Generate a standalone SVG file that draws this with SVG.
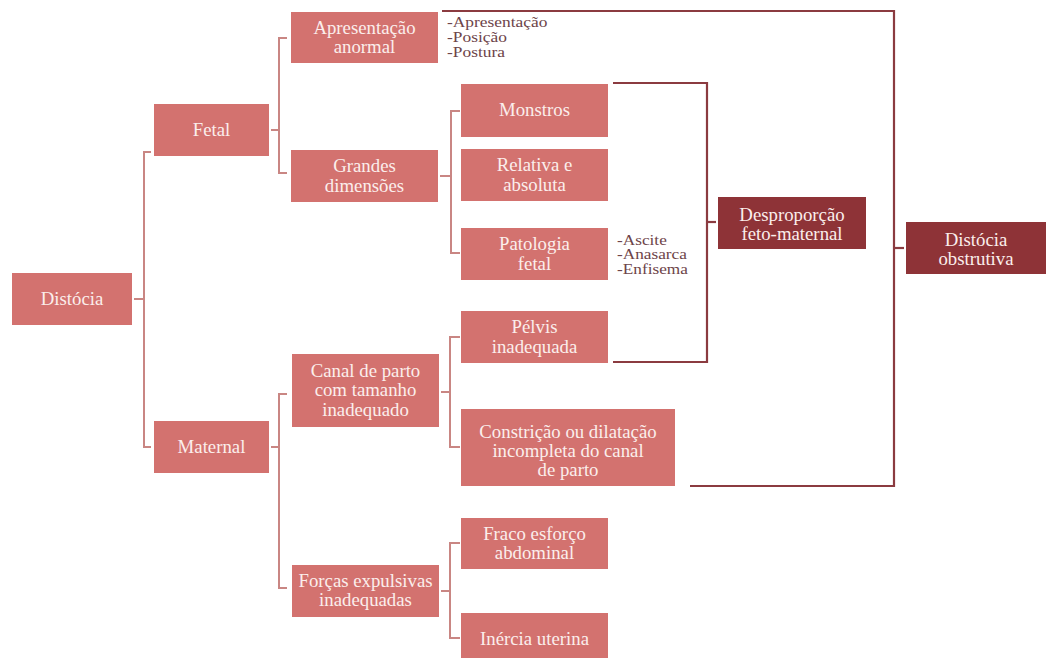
<svg xmlns="http://www.w3.org/2000/svg" width="1046" height="658" viewBox="0 0 1046 658">
<style>
.lb{fill:#d3726f}
.db{fill:#8e3337}
.t{font-family:'Liberation Serif','Times New Roman','DejaVu Serif',serif;font-size:18.8px;fill:#fbeeec;text-anchor:middle}
.n{font-family:'Liberation Serif','Times New Roman','DejaVu Serif',serif;font-size:15px;fill:#6d4449}
.lc{fill:none;stroke:#c98683;stroke-width:2}
.dc{fill:none;stroke:#8b3b40;stroke-width:2.2}
</style>
<rect width="1046" height="658" fill="#ffffff"/>
<g id="connectors">
<path class="lc" d="M134,299 H144 M151,152 H144 V447 H151"/>
<path class="lc" d="M271,130 H279 M287,38 H279 V173 H287"/>
<path class="lc" d="M440,176 H451 M460,111 H451 V253 H460"/>
<path class="lc" d="M271,447 H279 M287,394 H279 V588 H287"/>
<path class="lc" d="M441,392 H450 M460,337 H450 V447 H460"/>
<path class="lc" d="M441,591 H450 M460,543 H450 V638 H460"/>
<path class="dc" d="M442,11 H894 V486 H690"/>
<path class="dc" d="M894,248 H904"/>
<path class="dc" d="M613,83 H707 V362 H613"/>
<path class="dc" d="M707,222 H716"/>
</g>
<g id="distocia"><rect class="lb" x="12" y="273" width="120" height="52"/><text class="t" x="72" y="305">Distócia</text></g>
<g id="fetal"><rect class="lb" x="154" y="104" width="115" height="52"/><text class="t" x="211.5" y="136">Fetal</text></g>
<g id="maternal"><rect class="lb" x="154" y="421" width="115" height="52"/><text class="t" x="211.5" y="453">Maternal</text></g>
<g id="apresentacao"><rect class="lb" x="291" y="12" width="147" height="51"/><text class="t" x="364.5" y="34">Apresentação</text><text class="t" x="364.5" y="53">anormal</text></g>
<g id="apresentacao-list" transform="translate(447,0) scale(1.16,1)"><text class="n" x="0" y="27">-Apresentação</text><text class="n" x="0" y="42">-Posição</text><text class="n" x="0" y="57">-Postura</text></g>
<g id="grandes"><rect class="lb" x="291" y="150" width="147" height="52"/><text class="t" x="364.5" y="172">Grandes</text><text class="t" x="364.5" y="192">dimensões</text></g>
<g id="monstros"><rect class="lb" x="461" y="84" width="147" height="53"/><text class="t" x="534.5" y="116">Monstros</text></g>
<g id="relativa"><rect class="lb" x="461" y="149" width="147" height="52"/><text class="t" x="534.5" y="171">Relativa e</text><text class="t" x="534.5" y="191">absoluta</text></g>
<g id="patologia"><rect class="lb" x="461" y="228" width="147" height="52"/><text class="t" x="534.5" y="250">Patologia</text><text class="t" x="534.5" y="270">fetal</text></g>
<g id="patologia-list" transform="translate(617,0) scale(1.15,1)"><text class="n" x="0" y="245">-Ascite</text><text class="n" x="0" y="259.5">-Anasarca</text><text class="n" x="0" y="274">-Enfisema</text></g>
<g id="canal"><rect class="lb" x="292" y="354" width="147" height="73"/><text class="t" x="365.5" y="377">Canal de parto</text><text class="t" x="365.5" y="396">com tamanho</text><text class="t" x="365.5" y="416">inadequado</text></g>
<g id="pelvis"><rect class="lb" x="461" y="311" width="147" height="52"/><text class="t" x="534.5" y="333">Pélvis</text><text class="t" x="534.5" y="353">inadequada</text></g>
<g id="constricao"><rect class="lb" x="461" y="409" width="214" height="77"/><text class="t" x="568" y="438">Constrição ou dilatação</text><text class="t" x="568" y="457">incompleta do canal</text><text class="t" x="568" y="476">de parto</text></g>
<g id="forcas"><rect class="lb" x="292" y="565" width="147" height="52"/><text class="t" x="365.5" y="587">Forças expulsivas</text><text class="t" x="365.5" y="606">inadequadas</text></g>
<g id="fraco"><rect class="lb" x="461" y="518" width="147" height="51"/><text class="t" x="534.5" y="540">Fraco esforço</text><text class="t" x="534.5" y="559">abdominal</text></g>
<g id="inercia"><rect class="lb" x="461" y="613" width="147" height="52"/><text class="t" x="534.5" y="645">Inércia uterina</text></g>
<g id="desproporcao"><rect class="db" x="718" y="197" width="148" height="52"/><text class="t" x="792" y="221">Desproporção</text><text class="t" x="792" y="240">feto-maternal</text></g>
<g id="distocia-obstrutiva"><rect class="db" x="906" y="222" width="140" height="52"/><text class="t" x="976" y="246">Distócia</text><text class="t" x="976" y="265">obstrutiva</text></g>
</svg>
